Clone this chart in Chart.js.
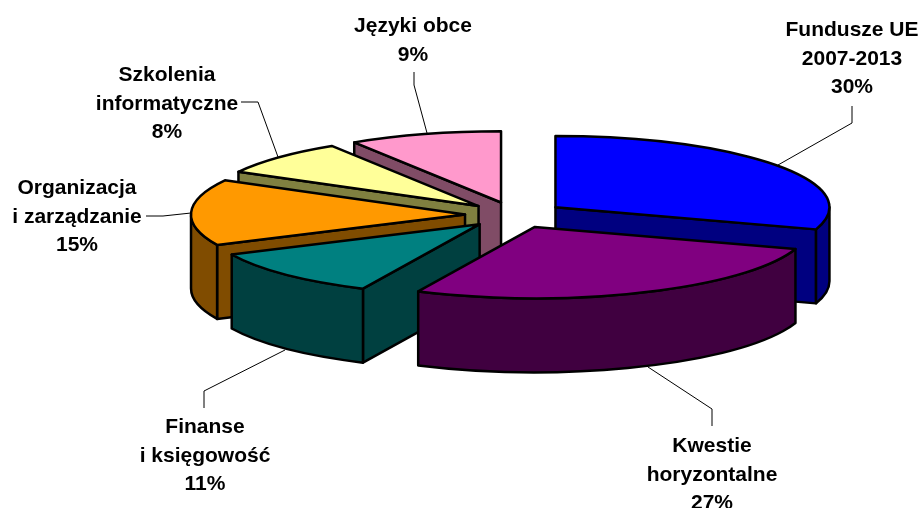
<!DOCTYPE html>
<html>
<head>
<meta charset="utf-8">
<script src="https://cdn.jsdelivr.net/npm/chart.js@4"></script>
<style>
  html, body { margin: 0; padding: 0; background: #fff; }
  canvas { display: block; }
</style>
</head>
<body>
<canvas id="pieChart" width="921" height="508"></canvas>
<script>
const categories = [
  ['Fundusze UE', '2007-2013'],
  ['Kwestie', 'horyzontalne'],
  ['Finanse', 'i księgowość'],
  ['Organizacja', 'i zarządzanie'],
  ['Szkolenia', 'informatyczne'],
  ['Języki obce']
];
const values = [30, 27, 11, 15, 8, 9];
const topColors = ['#0000FF', '#800080', '#008080', '#FF9900', '#FFFF99', '#FF99CC'];
const wallColors = ['#000080', '#400040', '#004040', '#804C00', '#808040', '#804C66'];

// painter's order, back slices first
const drawOrder = [5, 4, 0, 3, 2, 1];

// label centre x, first baseline y
const labelPos = [[852, 36], [712, 452], [205, 433], [77, 194], [167, 81], [413, 32]];
const leaders = [
  [[852, 106], [852, 123], [778, 165]],
  [[712, 426], [712, 409], [648, 367]],
  [[204, 408], [204, 391], [285, 350]],
  [[146, 216], [163, 216], [191, 213]],
  [[241, 102], [258, 102], [278, 157]],
  [[414, 72], [414, 85], [427, 133]]
];

const squash = 0.26;   // ellipse height / width
const depth = 74;      // height of the pie wall
const centerY = 215;

// chart.js only does flat pies, so tilt the arcs it computed and add the walls here
const pie3d = {
  id: 'pie3d',
  beforeDatasetsDraw(chart) {
    const ctx = chart.ctx;
    const arcs = chart.getDatasetMeta(0).data;

    drawOrder.forEach(i => {
      const el = arcs[i];
      const s = el.startAngle;
      const e = el.endAngle;
      const r = el.outerRadius;
      const mid = (s + e) / 2;
      const off = el.options.offset / 4;
      const x = el.x + Math.cos(mid) * off;
      const y = centerY + Math.sin(mid) * off * squash;
      const ry = r * squash;

      ctx.save();
      ctx.lineWidth = 2.5;
      ctx.lineJoin = 'round';
      ctx.strokeStyle = '#000';
      ctx.fillStyle = wallColors[i];

      const radialWall = a => {
        const px = x + Math.cos(a) * r;
        const py = y + Math.sin(a) * ry;
        ctx.beginPath();
        ctx.moveTo(x, y);
        ctx.lineTo(px, py);
        ctx.lineTo(px, py + depth);
        ctx.lineTo(x, y + depth);
        ctx.closePath();
        ctx.fill();
        ctx.stroke();
      };
      if (Math.cos(s) < -0.001) radialWall(s);
      if (Math.cos(e) > 0.001) radialWall(e);

      const a0 = Math.max(s, 0);
      const a1 = Math.min(e, Math.PI);
      if (a1 > a0) {
        ctx.beginPath();
        ctx.ellipse(x, y, r, ry, 0, a0, a1);
        ctx.lineTo(x + Math.cos(a1) * r, y + Math.sin(a1) * ry + depth);
        ctx.ellipse(x, y + depth, r, ry, 0, a1, a0, true);
        ctx.closePath();
        ctx.fill();
        ctx.stroke();
      }

      // top face
      ctx.fillStyle = el.options.backgroundColor;
      ctx.beginPath();
      ctx.moveTo(x, y);
      ctx.ellipse(x, y, r, ry, 0, s, e);
      ctx.closePath();
      ctx.fill();
      ctx.stroke();
      ctx.restore();
    });
    return false;
  },
  afterDraw(chart) {
    const ctx = chart.ctx;
    ctx.save();
    ctx.strokeStyle = '#000';
    ctx.lineWidth = 1;
    leaders.forEach(pts => {
      ctx.beginPath();
      pts.forEach((p, n) => n ? ctx.lineTo(p[0], p[1]) : ctx.moveTo(p[0], p[1]));
      ctx.stroke();
    });
    ctx.fillStyle = '#000';
    ctx.font = 'bold 21px "Liberation Sans"';
    ctx.textAlign = 'center';
    categories.forEach((lines, i) => {
      const [lx, ly] = labelPos[i];
      lines.concat(values[i] + '%').forEach((t, n) => ctx.fillText(t, lx, ly + n * 28.5));
    });
    ctx.restore();
  }
};

new Chart(document.getElementById('pieChart').getContext('2d'), {
  type: 'pie',
  data: {
    labels: categories.map(c => c.join(' ')),
    datasets: [{
      data: values,
      backgroundColor: topColors,
      borderWidth: 0,
      offset: 200
    }]
  },
  options: {
    responsive: false,
    animation: false,
    radius: 274,
    layout: { padding: { left: 109 } },
    plugins: {
      legend: { display: false },
      tooltip: { enabled: false }
    }
  },
  plugins: [pie3d]
});
</script>
</body>
</html>
